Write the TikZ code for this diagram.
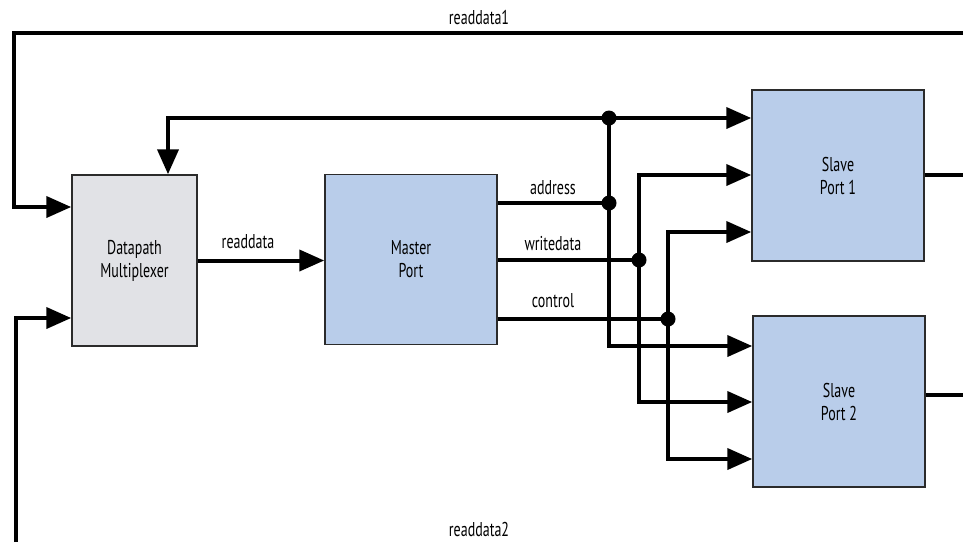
\documentclass[tikz,border=0pt]{standalone}
\usepackage{fontspec}
\setmainfont{PT Sans}[FakeStretch=0.7]
\usepackage{xcolor}
\usetikzlibrary{arrows.meta, calc}

\definecolor{muxgray}{HTML}{E1E2E6}
\definecolor{portblue}{HTML}{B9CDEA}
\definecolor{edgegray}{HTML}{2B2B2B}

\begin{document}
\begin{tikzpicture}[
    x=1pt, y=-1pt,
    >={Triangle[length=25pt, width=21pt]},
    block/.style={draw=edgegray, line width=1.5pt, minimum width=172pt, minimum height=171pt, inner sep=0pt, align=center, fill=portblue, font=\fontsize{20}{23}\selectfont},
    bus/.style={line width=4pt},
    dot/.style={circle, fill=black, inner sep=0pt, minimum size=15pt},
    lbl/.style={font=\fontsize{20}{23}\selectfont, inner sep=0pt}
]
    \useasboundingbox (0,0) rectangle (963,542);

    % Nodes
    \node[block, fill=muxgray, minimum width=125pt] (mux) at (134.5,260.5) {Datapath \\ Multiplexer};
    \node[block, minimum height=170pt] (mp) at (411,259.5) {Master \\ Port};
    \node[block] (s1) at (838,175.5) {Slave \\ Port 1};
    \node[block] (s2) at (839,401.5) {Slave \\ Port 2};

    % Junctions
    \node[dot] (a0) at (609,118) {};
    \node[dot] (a1) at (609,203) {};
    \node[dot] (w1) at (639,260) {};
    \node[dot] (c1) at (668,319) {};

    % Free ends at the edge of the figure
    \coordinate (rd1) at (963,33);
    \coordinate (rd2) at (16,542);
    \coordinate (s1out) at (963,175);
    \coordinate (s2out) at (963,395);

    % Labels
    \node[lbl] (rd1lbl) at (479,17) {readdata1};
    \node[lbl] (rd2lbl) at (479,529) {readdata2};
    \node[lbl] (rdlbl) at (248,242) {readdata};
    \node[lbl] (addrlbl) at (553,188) {address};
    \node[lbl] (wrlbl) at (553,244) {writedata};
    \node[lbl] (ctllbl) at (553,301) {control};

    % Connections
    \draw[bus, ->] (rd1) -| (14,207) -- (mux.west |- 0,207);
    \draw[bus, ->] (rd2) |- (mux.west |- 0,318);
    \draw[bus, ->] (mux.east) -- (mux.east -| mp.west);
    \draw[bus, <->] (mux.north -| 168,0) |- (s1.west |- a0);
    \draw[bus, ->] (a0.center) |- (s2.west |- 0,346);
    \draw[bus, <->] (s1.west |- 0,175) -| (w1.center) |- (s2.west |- 0,402);
    \draw[bus, <->] (s1.west |- 0,232) -| (c1.center) |- (s2.west |- 0,459);
    \draw[bus] (mp.east |- a1) -- (a1.center);
    \draw[bus] (mp.east |- w1) -- (w1.center);
    \draw[bus] (mp.east |- c1) -- (c1.center);
    \draw[bus] (s1.east |- s1out) -- (s1out);
    \draw[bus] (s2.east |- s2out) -- (s2out);
\end{tikzpicture}
\end{document}
